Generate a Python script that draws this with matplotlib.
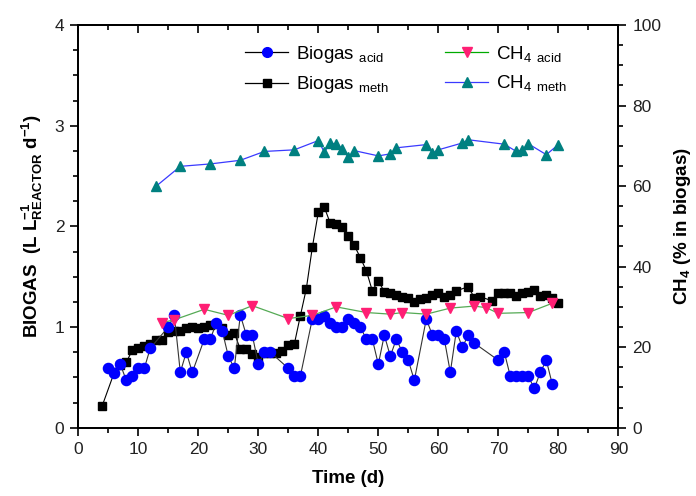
import matplotlib
matplotlib.use('Agg')
import matplotlib.pyplot as plt
from matplotlib.ticker import MultipleLocator
from matplotlib.lines import Line2D

plt.rcParams['font.family'] = ['Liberation Sans', 'DejaVu Sans']
plt.rcParams['mathtext.fontset'] = 'custom'
plt.rcParams['mathtext.rm'] = 'Liberation Sans'
plt.rcParams['mathtext.it'] = 'Liberation Sans:italic'
plt.rcParams['mathtext.bf'] = 'Liberation Sans:bold'

# ---------------- data ----------------
biogas_acid_days = [5, 6, 7, 8, 9, 10, 11, 12, 15, 16, 17, 18, 19, 21, 22, 23, 24, 25, 26, 27,
                    28, 29, 30, 31, 32, 35, 36, 37, 39, 40, 41, 42, 43, 44, 45, 46, 47, 48, 49, 50,
                    51, 52, 53, 54, 55, 56, 58, 59, 60, 61, 62, 63, 64, 65, 66, 70, 71, 72, 73, 74,
                    75, 76, 77, 78, 79]
biogas_acid = [0.59, 0.54, 0.63, 0.47, 0.51, 0.59, 0.59, 0.79, 1.00, 1.12, 0.55, 0.75, 0.55, 0.88, 0.88, 1.04, 0.96, 0.71, 0.59, 1.12,
               0.92, 0.92, 0.63, 0.75, 0.75, 0.59, 0.51, 0.51, 1.08, 1.08, 1.11, 1.04, 1.00, 1.00, 1.08, 1.04, 1.00, 0.88, 0.88, 0.63,
               0.92, 0.71, 0.88, 0.75, 0.67, 0.47, 1.08, 0.92, 0.92, 0.88, 0.55, 0.96, 0.80, 0.92, 0.84, 0.67, 0.75, 0.51, 0.51, 0.51,
               0.51, 0.39, 0.55, 0.67, 0.43]

biogas_meth_days = [4, 6, 7, 8, 9, 10, 11, 12, 13, 14, 15, 16, 17, 18, 19, 20, 21, 22, 23, 24,
                    25, 26, 27, 28, 29, 30, 31, 32, 33, 34, 35, 36, 37, 38, 39, 40, 41, 42, 43, 44,
                    45, 46, 47, 48, 49, 50, 51, 52, 53, 54, 55, 56, 57, 58, 59, 60, 61, 62, 63, 65,
                    66, 67, 69, 70, 71, 72, 73, 74, 75, 76, 77, 78, 79, 80]
biogas_meth = [0.22, 0.55, 0.62, 0.65, 0.77, 0.79, 0.81, 0.83, 0.87, 0.87, 0.95, 0.96, 0.96, 0.99, 1.00, 0.99, 1.00, 1.02, 1.03, 0.99,
               0.92, 0.94, 0.78, 0.78, 0.73, 0.70, 0.74, 0.74, 0.74, 0.76, 0.82, 0.83, 1.11, 1.38, 1.79, 2.14, 2.19, 2.03, 2.02, 1.99,
               1.90, 1.81, 1.69, 1.56, 1.36, 1.46, 1.35, 1.34, 1.32, 1.30, 1.29, 1.25, 1.28, 1.29, 1.32, 1.34, 1.30, 1.32, 1.36, 1.40,
               1.29, 1.30, 1.26, 1.34, 1.34, 1.34, 1.31, 1.34, 1.35, 1.37, 1.31, 1.32, 1.29, 1.24]

ch4_acid_days = [14, 16, 21, 25, 29, 35, 39, 43, 48, 52, 54, 58, 62, 66, 68, 70, 75, 79]
ch4_acid = [26.1, 26.8, 29.4, 27.9, 30.3, 27.1, 27.9, 30.0, 28.6, 28.2, 28.6, 28.2, 29.7, 30.2, 29.8, 28.4, 28.6, 30.9]

ch4_meth_days = [13, 17, 22, 27, 31, 36, 40, 41, 42, 43, 44, 45, 46, 50, 52, 53, 58, 59, 60, 64,
                 65, 71, 73, 74, 75, 78, 80]
ch4_meth = [60.0, 64.9, 65.5, 66.4, 68.6, 69.0, 71.3, 68.4, 70.7, 70.4, 69.3, 67.1, 68.8, 67.5, 68.0, 69.5, 70.3, 68.2, 69.0, 70.7,
            71.5, 70.4, 68.6, 69.0, 70.5, 67.8, 70.3]

xticks = [0, 10, 20, 30, 40, 50, 60, 70, 80, 90]
yticks_left = [0, 1, 2, 3, 4]
yticks_right = [0, 20, 40, 60, 80, 100]

# ---------------- colours ----------------
c_blue = '#0000ff'
c_pink = '#ff1f74'
c_teal = '#008080'
c_green = '#55aa55'
c_mline = '#3a3aff'

fig = plt.figure(figsize=(6.96, 4.96), dpi=100)
ax = fig.add_axes([0.1125, 0.1377, 0.7759, 0.8119])
ax2 = ax.twinx()

ax.plot(biogas_meth_days, biogas_meth, color='black', lw=0.8, marker='s', ms=5.2,
        mfc='black', mec='black', zorder=2)
ax.plot(biogas_acid_days, biogas_acid, color='#333333', lw=0.8, marker='o', ms=7.3,
        mfc=c_blue, mec=c_blue, zorder=3)

ax2.plot(ch4_acid_days, ch4_acid, color=c_green, lw=0.9, marker='v', ms=7.5,
         mfc=c_pink, mec=c_pink, zorder=3)
ax2.plot(ch4_meth_days, ch4_meth, color=c_mline, lw=0.9, marker='^', ms=7.5,
         mfc=c_teal, mec=c_teal, zorder=3)

ax.set_xlim(0, 90)
ax.set_ylim(0, 4)
ax2.set_ylim(0, 100)
ax.set_xticks(xticks)
ax.set_yticks(yticks_left)
ax2.set_yticks(yticks_right)
ax.xaxis.set_minor_locator(MultipleLocator(5))
ax.yaxis.set_minor_locator(MultipleLocator(0.25))
ax2.yaxis.set_minor_locator(MultipleLocator(5))

ax.tick_params(axis='both', which='major', direction='out', length=6, width=1.2,
               labelsize=12.5, colors='black', labelcolor='#222222', pad=4)
ax.tick_params(axis='both', which='minor', direction='out', length=3.5, width=1.2)
ax2.tick_params(axis='y', which='major', direction='out', length=6, width=1.2,
                labelsize=12.5, labelcolor='#222222', pad=4)
ax2.tick_params(axis='y', which='minor', direction='out', length=3.5, width=1.2)

secx = ax.secondary_xaxis('top')
secx.set_xticks(xticks)
secx.xaxis.set_minor_locator(MultipleLocator(5))
secx.tick_params(which='major', direction='in', length=6, width=1.2, labeltop=False)
secx.tick_params(which='minor', direction='in', length=3.5, width=1.2)

for a in (ax, ax2):
    for s in a.spines.values():
        s.set_linewidth(1.3)
secx.spines['top'].set_linewidth(1.3)

ax.set_xlabel('Time (d)', fontsize=13.5, fontweight='bold', labelpad=10)
ax.set_ylabel(r'BIOGAS  (L L$^{\mathbf{-1}}_{\mathbf{REACTOR}}$ d$^{\mathbf{-1}}$)',
              fontsize=13.5, fontweight='bold', labelpad=7)
ax2.set_ylabel(r'CH$_{\mathbf{4}}$ (% in biogas)', fontsize=13.5, fontweight='bold', labelpad=8)

handles = [
    Line2D([], [], color='black', lw=0.9, marker='o', ms=7, mfc=c_blue, mec=c_blue),
    Line2D([], [], color='black', lw=0.9, marker='s', ms=5.5, mfc='black', mec='black'),
    Line2D([], [], color='#00aa00', lw=0.9, marker='v', ms=7, mfc=c_pink, mec=c_pink),
    Line2D([], [], color=c_mline, lw=0.9, marker='^', ms=7, mfc=c_teal, mec=c_teal),
]
labels = [r'Biogas $_{\mathrm{acid}}$', r'Biogas $_{\mathrm{meth}}$',
          r'CH$_4$ $_{\mathrm{acid}}$', r'CH$_4$ $_{\mathrm{meth}}$']
ax2.legend(handles, labels, ncol=2, frameon=False, fontsize=13.5,
           loc='upper left', bbox_to_anchor=(245 / 696, 1 - 44 / 496),
           bbox_transform=fig.transFigure, handlelength=2.3, handletextpad=0.4,
           columnspacing=3.0, labelspacing=0.5, borderpad=0, borderaxespad=0)

fig.savefig('out.png', dpi=100)
